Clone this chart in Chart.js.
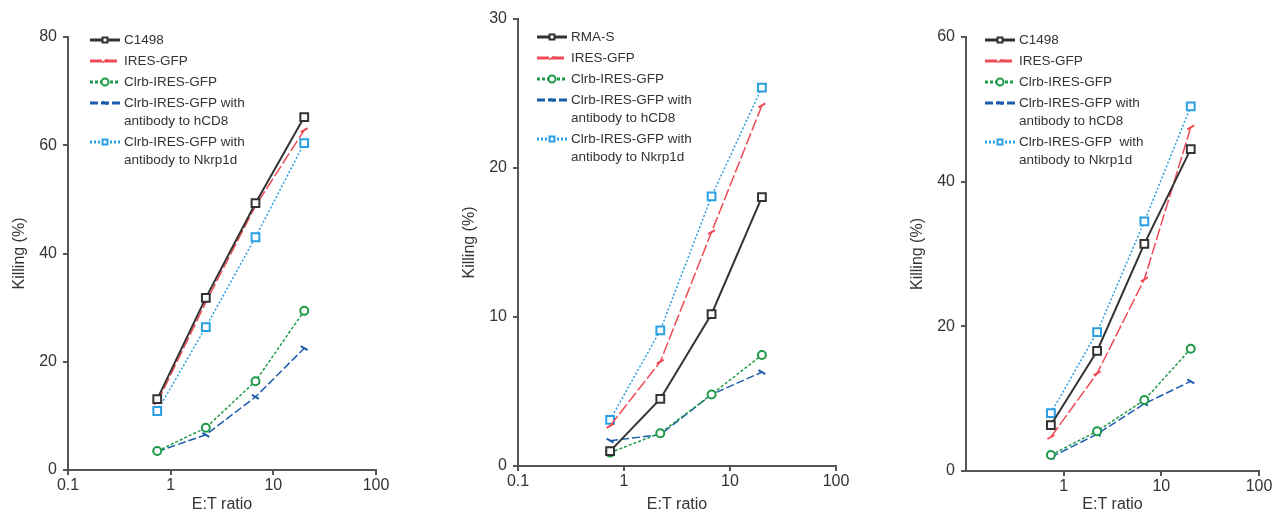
<!DOCTYPE html>
<html>
<head>
<meta charset="utf-8">
<script src="https://cdn.jsdelivr.net/npm/chart.js@4.4.1/dist/chart.umd.min.js"></script>
<style>
  body { margin: 0; background: #fff; width: 1286px; height: 516px; position: relative; overflow: hidden; }
  .panel { position: absolute; top: 0; height: 516px; }
</style>
</head>
<body>
<div class="panel" style="left:0;width:420px"><canvas id="chartA"></canvas></div>
<div class="panel" style="left:450px;width:410px"><canvas id="chartB"></canvas></div>
<div class="panel" style="left:900px;width:386px"><canvas id="chartC"></canvas></div>
<script>
// E:T ratios shared by all panels
const ratios = [0.74, 2.2, 6.7, 20];

// panel A (C1498 targets)
const aC1498 = [13.1, 31.8, 49.3, 65.2];
const aIres = [12.5, 31.0, 48.8, 62.8];
const aClrb = [3.5, 7.8, 16.4, 29.4];
const aHcd8 = [3.4, 6.5, 13.5, 22.5];
const aNkrp = [10.9, 26.4, 43.0, 60.4];

// panel B (RMA-S targets)
const bRmas = [1.0, 4.5, 10.2, 18.05];
const bIres = [2.7, 7.0, 15.7, 24.2];
const bClrb = [0.9, 2.2, 4.8, 7.45];
const bHcd8 = [1.7, 2.1, 4.8, 6.3];
const bNkrp = [3.1, 9.1, 18.1, 25.4];

// panel C (C1498 targets)
const cC1498 = [6.35, 16.6, 31.4, 44.5];
const cIres = [4.7, 13.5, 26.5, 47.5];
const cClrb = [2.2, 5.5, 9.8, 16.9];
const cHcd8 = [1.9, 5.1, 9.3, 12.4];
const cNkrp = [8.0, 19.2, 34.5, 50.4];

const xTicksAB = [0.1, 1, 10, 100];
const xTicksC = [1, 10, 100];

const FONT = '"Liberation Sans", Arial, sans-serif';
const AXIS = '#555';

const styles = {
  black: { borderColor: '#333', borderWidth: 2, borderDash: [], pointStyle: 'rect', pointRadius: 5.5, pointBorderWidth: 2, pointRotation: 0 },
  red: { borderColor: '#ee4a55', borderWidth: 1.5, borderDash: [12, 3], pointStyle: 'line', pointRadius: 4, pointBorderWidth: 2, pointRotation: -30 },
  green: { borderColor: '#1f9a48', borderWidth: 1.5, borderDash: [3, 2], pointStyle: 'circle', pointRadius: 4, pointBorderWidth: 2, pointRotation: 0 },
  blue: { borderColor: '#1c5cad', borderWidth: 1.5, borderDash: [8, 3], pointStyle: 'line', pointRadius: 4, pointBorderWidth: 2, pointRotation: 30 },
  cyan: { borderColor: '#2a9ee2', borderWidth: 1.5, borderDash: [2, 2], pointStyle: 'rect', pointRadius: 5.5, pointBorderWidth: 2, pointRotation: 0 }
};

function series(label, vals, st) {
  const s = styles[st];
  return {
    label: label,
    data: ratios.map((x, i) => ({ x: x, y: vals[i] })),
    borderColor: s.borderColor,
    borderWidth: s.borderWidth,
    borderDash: s.borderDash,
    pointStyle: s.pointStyle,
    pointRadius: s.pointRadius,
    pointBorderWidth: s.pointBorderWidth,
    pointRotation: s.pointRotation,
    pointBorderColor: s.borderColor,
    pointBackgroundColor: '#fff',
    backgroundColor: '#fff',
    fill: false,
    tension: 0,
    clip: false
  };
}

// legend with line samples drawn inside the plot area
const sampleLegend = {
  id: 'sampleLegend',
  afterDraw(chart, args, opts) {
    const ctx = chart.ctx;
    const a = chart.chartArea;
    const x0 = a.left + opts.dx;
    let y = a.top + opts.dy;
    ctx.save();
    ctx.font = '13.5px ' + FONT;
    ctx.textBaseline = 'middle';
    chart.data.datasets.forEach(ds => {
      ctx.strokeStyle = ds.borderColor;
      ctx.lineWidth = 3;
      ctx.setLineDash(ds.borderDash);
      ctx.beginPath();
      ctx.moveTo(x0, y);
      ctx.lineTo(x0 + 30, y);
      ctx.stroke();
      ctx.setLineDash([]);
      ctx.fillStyle = '#fff';
      ctx.lineWidth = 2;
      Chart.helpers.drawPoint(ctx, { pointStyle: ds.pointStyle, radius: ds.pointStyle === 'line' ? 3 : 3.5, rotation: ds.pointRotation, borderWidth: 2 }, x0 + 15, y);
      ctx.fillStyle = '#333';
      const lines = ds.label.split('\n');
      lines.forEach((t, i) => ctx.fillText(t, x0 + 34, y + i * 18));
      y += 21 + (lines.length - 1) * 18;
    });
    ctx.restore();
  }
};

function makeChart(id, datasets, yMax, yStep, xTicks, pad, yWidth, xHeight, legend) {
  return new Chart(document.getElementById(id), {
    type: 'line',
    data: { datasets: datasets },
    plugins: [sampleLegend],
    options: {
      responsive: false,
      animation: false,
      maintainAspectRatio: false,
      layout: { padding: pad },
      plugins: {
        legend: { display: false },
        tooltip: { enabled: false },
        sampleLegend: legend
      },
      scales: {
        x: {
          type: 'logarithmic',
          min: 0.1,
          max: 100,
          afterBuildTicks: s => { s.ticks = xTicks.map(v => ({ value: v })); },
          afterFit: s => { s.height = xHeight; },
          border: { display: true, color: AXIS, width: 2 },
          grid: { drawOnChartArea: false, drawTicks: true, tickLength: 5, color: AXIS, lineWidth: 2 },
          ticks: { color: '#333', font: { family: FONT, size: 16 }, padding: 1, maxRotation: 0, autoSkip: false, callback: v => String(v) },
          title: { display: true, text: 'E:T ratio', color: '#333', font: { family: FONT, size: 16 }, padding: { top: 0, bottom: 2 } }
        },
        y: {
          min: 0,
          max: yMax,
          afterFit: s => { s.width = yWidth; },
          border: { display: true, color: AXIS, width: 2 },
          grid: { drawOnChartArea: false, drawTicks: true, tickLength: 5, color: AXIS, lineWidth: 2 },
          ticks: { stepSize: yStep, color: '#333', font: { family: FONT, size: 16 }, padding: 6 },
          title: { display: true, text: 'Killing (%)', color: '#333', font: { family: FONT, size: 16 }, padding: { top: 0, bottom: 0 } }
        }
      }
    }
  });
}

function sizeCanvas(id, w) {
  const c = document.getElementById(id);
  c.width = w; c.height = 516;
  c.style.width = w + 'px'; c.style.height = '516px';
}
sizeCanvas('chartA', 420);
sizeCanvas('chartB', 410);
sizeCanvas('chartC', 386);

makeChart('chartA', [
  series('C1498', aC1498, 'black'),
  series('IRES-GFP', aIres, 'red'),
  series('Clrb-IRES-GFP', aClrb, 'green'),
  series('Clrb-IRES-GFP with\nantibody to hCD8', aHcd8, 'blue'),
  series('Clrb-IRES-GFP with\nantibody to Nkrp1d', aNkrp, 'cyan')
], 80, 20, xTicksAB, { left: 10, right: 44, top: 37, bottom: 0 }, 58, 46, { dx: 22, dy: 3 });

makeChart('chartB', [
  series('RMA-S', bRmas, 'black'),
  series('IRES-GFP', bIres, 'red'),
  series('Clrb-IRES-GFP', bClrb, 'green'),
  series('Clrb-IRES-GFP with\nantibody to hCD8', bHcd8, 'blue'),
  series('Clrb-IRES-GFP with\nantibody to Nkrp1d', bNkrp, 'cyan')
], 30, 10, xTicksAB, { left: 10, right: 24, top: 19, bottom: 0 }, 58, 50, { dx: 19, dy: 18 });

makeChart('chartC', [
  series('C1498', cC1498, 'black'),
  series('IRES-GFP', cIres, 'red'),
  series('Clrb-IRES-GFP', cClrb, 'green'),
  series('Clrb-IRES-GFP with\nantibody to hCD8', cHcd8, 'blue'),
  series('Clrb-IRES-GFP  with\nantibody to Nkrp1d', cNkrp, 'cyan')
], 60, 20, xTicksC, { left: 8, right: 27, top: 37, bottom: 0 }, 58, 45, { dx: 19, dy: 3 });
</script>
</body>
</html>
